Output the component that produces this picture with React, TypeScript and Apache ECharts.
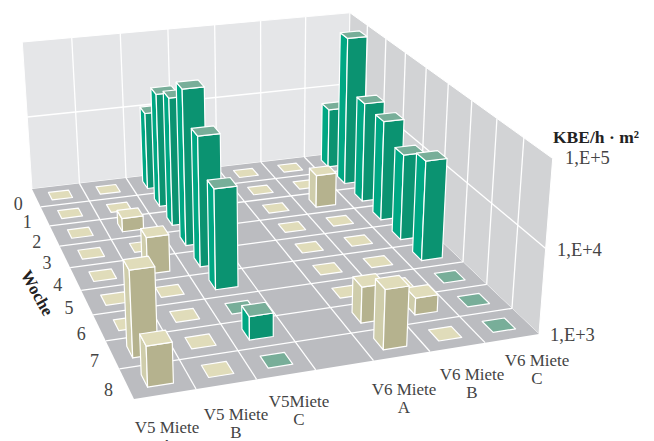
import React, { useEffect, useRef } from "react";
import * as echarts from "echarts";

const weeks = ["0", "1", "2", "3", "4", "5", "6", "7", "8"];
const categories = ["V5 Miete\nA", "V5 Miete\nB", "V5Miete\nC", "", "V6 Miete\nA", "V6 Miete\nB", "V6 Miete\nC"];
const valueTicks = ["1,E+3", "1,E+4", "1,E+5"];
const v5A = [1000, 1000, 1000, 1000, 1000, 1000, 1000, 10000, 2900];
const v5B = [1000, 1000, 1500, 1000, 2900, 1000, 1000, 1000, 1000];
const v5C = [11000, 32000, 46000, 95000, 42000, 17000, 1000, 1900, 1000];
const gap = [null, null, null, null, null, null, null, null, null];
const v6A = [1000, 1000, 1000, 1000, 1000, 1000, 1000, 2700, 5000];
const v6B = [1000, 1000, 2700, 1000, 1000, 1000, 1000, 1600, 1000];
const v6C = [6600, 98000, 21000, 20000, 12500, 18000, 1000, 1000, 1000];
const columns = [v5A, v5B, v5C, gap, v6A, v6B, v6C];
const columnKind = ["beige", "beige", "green", "", "beige", "beige", "green"];

// ---- layout of the 3D box (pixel positions of its corners, not data)
const COLS = columns.length;
const ROWS = weeks.length;
const floorCorners = [
  [0, 0, 32, 189],
  [COLS, 0, 347, 152],
  [0, ROWS, 134, 399],
  [COLS, ROWS, 539, 334],
];
const topCorners = [
  [0, 0, 22, 43],
  [COLS, 0, 350, 13],
  [COLS, ROWS, 553, 157],
];
const categoryLabelPos = [
  [167, 421],
  [236, 408],
  [299, 395],
  null,
  [404, 383],
  [472, 368],
  [537, 354],
];
const valueLabelPos = [
  [550, 335],
  [557, 250],
  [565, 158],
];
const INSET = 0.29;
const FONT = '"Liberation Serif", serif';
const TEXT = "#444";

const palette: any = {
  beige: { top: "#E0DCBA", left: "#CFCDAB", front: "#B5B28E" },
  green: { top: "#78AE99", left: "#00A783", front: "#0B9371" },
};

function solve(M: number[][], b: number[]) {
  const n = b.length;
  const a = M.map((r, i) => [...r, b[i]]);
  for (let i = 0; i < n; i++) {
    let p = i;
    for (let k = i + 1; k < n; k++) if (Math.abs(a[k][i]) > Math.abs(a[p][i])) p = k;
    [a[i], a[p]] = [a[p], a[i]];
    for (let k = 0; k < n; k++) {
      if (k === i) continue;
      const f = a[k][i] / a[i][i];
      for (let j = i; j <= n; j++) a[k][j] -= f * a[i][j];
    }
  }
  return a.map((r, i) => r[n] / r[i]);
}

const M8: number[][] = [];
const b8: number[] = [];
floorCorners.forEach(([u, v, x, y]) => {
  M8.push([u, v, 1, 0, 0, 0, -u * x, -v * x]);
  b8.push(x);
  M8.push([0, 0, 0, u, v, 1, -u * y, -v * y]);
  b8.push(y);
});
const H = solve(M8, b8);

const rows3: number[][] = [];
const rhs3: number[] = [];
topCorners.forEach(([u, v, X, Y]) => {
  const xh = H[0] * u + H[1] * v + H[2];
  const yh = H[3] * u + H[4] * v + H[5];
  const dh = H[6] * u + H[7] * v + 1;
  rows3.push([1, 0, -X]);
  rhs3.push(X * dh - xh);
  rows3.push([0, 1, -Y]);
  rhs3.push(Y * dh - yh);
});
const ATA = [0, 1, 2].map((i) => [0, 1, 2].map((j) => rows3.reduce((s, r) => s + r[i] * r[j], 0)));
const ATb = [0, 1, 2].map((i) => rows3.reduce((s, r, k) => s + r[i] * rhs3[k], 0));
const [PA, PB, PC] = solve(ATA, ATb);

function project(u: number, v: number, w: number): number[] {
  const d = H[6] * u + H[7] * v + 1 + PC * w;
  return [(H[0] * u + H[1] * v + H[2] + PA * w) / d, (H[3] * u + H[4] * v + H[5] + PB * w) / d];
}
const logW = (val: number) => (Math.log10(val) - 3) / 2;

const poly = (pts: number[][], fill: string, stroke = "#fff", lineWidth = 1.2) => ({
  type: "polygon",
  shape: { points: pts },
  style: { fill, stroke, lineWidth, lineJoin: "round" },
});
const seg = (a: number[], b: number[]) => ({
  type: "line",
  shape: { x1: a[0], y1: a[1], x2: b[0], y2: b[1] },
  style: { stroke: "#fff", lineWidth: 1.3 },
});

function renderScene() {
  const kids: any[] = [];
  kids.push(
    poly([project(0, 0, 0), project(COLS, 0, 0), project(COLS, 0, 1), project(0, 0, 1)], "#E5E6E8", "#fff", 1),
    poly([project(COLS, 0, 0), project(COLS, ROWS, 0), project(COLS, ROWS, 1), project(COLS, 0, 1)], "#D2D3D5", "#fff", 1),
    poly([project(0, 0, 0), project(COLS, 0, 0), project(COLS, ROWS, 0), project(0, ROWS, 0)], "#BBBCC0", "#fff", 0)
  );
  for (let c = 1; c < COLS; c++) kids.push(seg(project(c, 0, 0), project(c, 0, 1)));
  for (let r = 1; r < ROWS; r++) kids.push(seg(project(COLS, r, 0), project(COLS, r, 1)));
  const mid = logW(10000);
  kids.push(seg(project(0, 0, mid), project(COLS, 0, mid)), seg(project(COLS, 0, mid), project(COLS, ROWS, mid)));
  for (let c = 1; c < COLS; c++) kids.push(seg(project(c, 0, 0), project(c, ROWS, 0)));
  for (let r = 1; r < ROWS; r++) kids.push(seg(project(0, r, 0), project(COLS, r, 0)));
  return { type: "group", children: kids };
}

function renderBar(_p: any, api: any) {
  const c = api.value(0);
  const r = api.value(1);
  const val = api.value(2);
  const pal = palette[columnKind[c]];
  const w = logW(val);
  const x0 = c + INSET;
  const x1 = c + 1 - INSET;
  const y0 = r + INSET;
  const y1 = r + 1 - INSET;
  const kids: any[] = [];
  if (w > 0) {
    kids.push(
      poly([project(x0, y0, 0), project(x0, y1, 0), project(x0, y1, w), project(x0, y0, w)], pal.left),
      poly([project(x0, y1, 0), project(x1, y1, 0), project(x1, y1, w), project(x0, y1, w)], pal.front)
    );
  }
  kids.push(poly([project(x0, y0, w), project(x1, y0, w), project(x1, y1, w), project(x0, y1, w)], pal.top));
  return { type: "group", children: kids };
}

const barData: number[][] = [];
for (let r = 0; r < ROWS; r++) {
  for (let c = COLS - 1; c >= 0; c--) {
    const val = columns[c][r];
    if (val != null) barData.push([c, r, val]);
  }
}

const txt = (text: string, x: number, y: number, extra: any = {}) => ({
  type: "text",
  x,
  y,
  silent: true,
  style: { text, fill: TEXT, font: `17px ${FONT}`, textAlign: "center", textVerticalAlign: "middle", ...extra },
});

function labels() {
  const out: any[] = [];
  weeks.forEach((wk, r) => {
    const p = project(0, r + 0.5, 0);
    out.push(txt(wk, p[0] - 18, p[1] + 6, { font: `18px ${FONT}` }));
  });
  categories.forEach((cat, c) => {
    const pos = categoryLabelPos[c];
    if (pos && cat) {
      const lines = cat.split("\n");
      lines.forEach((ln, i) => out.push(txt(ln, pos[0], pos[1] + 6 + i * 18)));
    }
  });
  valueTicks.forEach((t, i) => {
    out.push(txt(t, valueLabelPos[i][0], valueLabelPos[i][1], { textAlign: "left", font: `18.5px ${FONT}` }));
  });
  out.push(
    txt("KBE/h · m²", 553, 137, { textAlign: "left", font: `bold 17.5px ${FONT}`, fill: "#222" }),
    {
      ...txt("Woche", 37, 293, { font: `bold 17px ${FONT}`, fill: "#222" }),
      rotation: (-61 * Math.PI) / 180,
    }
  );
  return out;
}

export default function App() {
  const ref = useRef<HTMLDivElement>(null);
  useEffect(() => {
    const chart = echarts.init(ref.current as HTMLDivElement, undefined, { renderer: "svg" });
    chart.setOption({
      animation: false,
      backgroundColor: "#fff",
      series: [
        { type: "custom", coordinateSystem: "none", silent: true, data: [[0]], renderItem: renderScene, clip: false },
        { type: "custom", coordinateSystem: "none", silent: true, data: barData, renderItem: renderBar, clip: false },
      ],
      graphic: { elements: labels() },
    });
    return () => chart.dispose();
  }, []);
  return <div ref={ref} style={{ position: "fixed", left: 0, top: 0, width: 654, height: 441 }} />;
}
